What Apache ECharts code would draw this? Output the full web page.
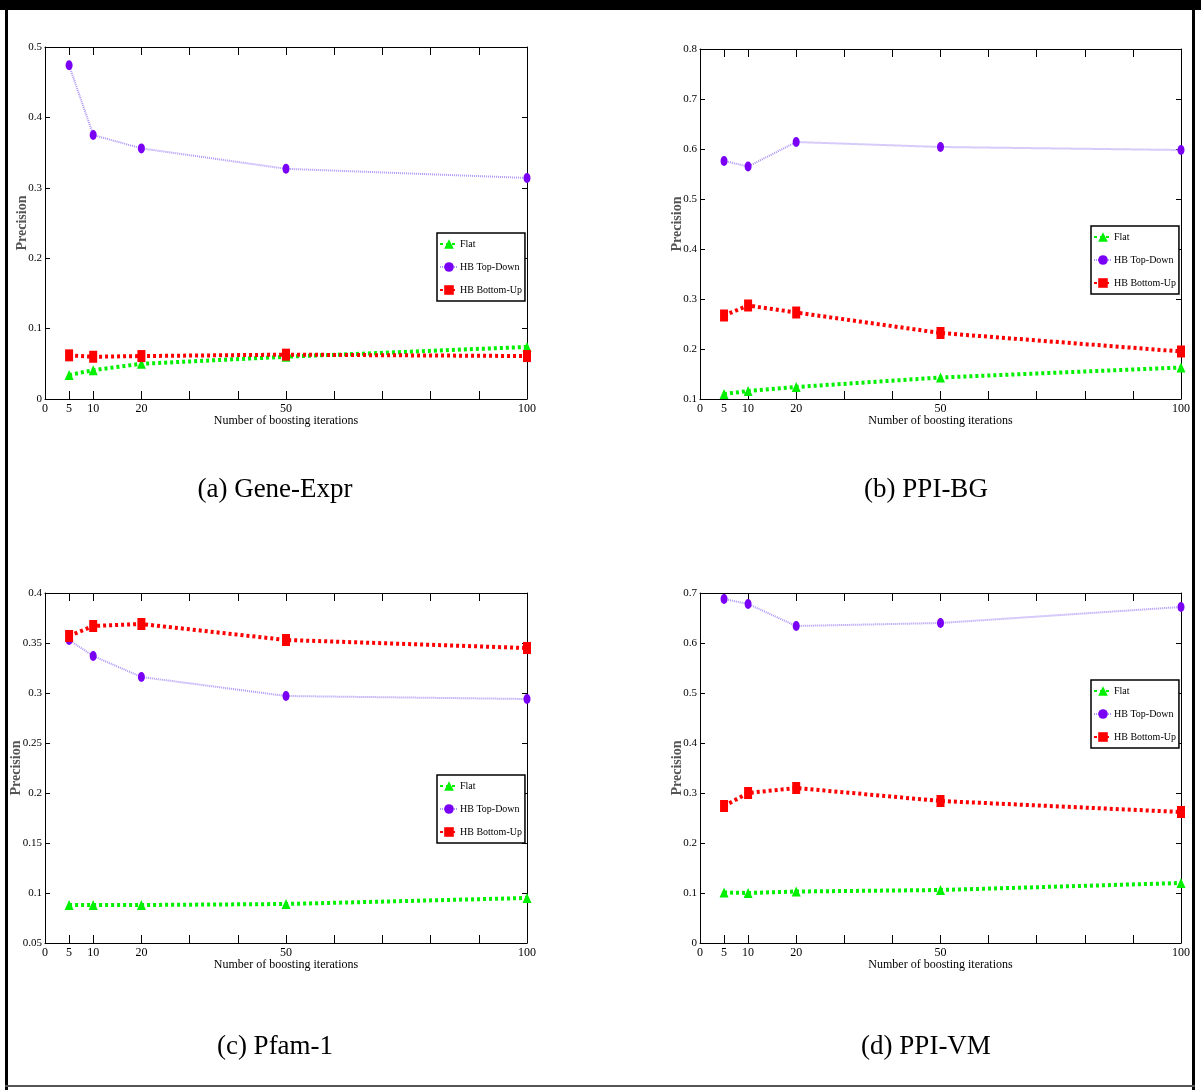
<!DOCTYPE html>
<html>
<head>
<meta charset="utf-8">
<script src="https://cdn.jsdelivr.net/npm/echarts@6/dist/echarts.min.js"></script>
<style>
  html, body { margin: 0; padding: 0; background: #fff; }
  #main { width: 1201px; height: 1090px; }
</style>
</head>
<body>
<div id="main"></div>
<script>
// boosting iterations on the x axis
var iterations = [5, 10, 20, 50, 100];
var xLabelValues = [0, 5, 10, 20, 50, 100];
var xTickValues = [5, 10, 20, 30, 40, 50, 60, 70, 80, 90];
var seriesNames = ['Flat', 'HB Top-Down', 'HB Bottom-Up'];

// (a) Gene-Expr
var geneFlat = [0.034, 0.041, 0.050, 0.060, 0.074];
var geneTopDown = [0.474, 0.375, 0.356, 0.327, 0.314];
var geneBottomUp = [0.062, 0.060, 0.061, 0.063, 0.061];
// (b) PPI-BG
var bgFlat = [0.110, 0.116, 0.124, 0.143, 0.163];
var bgTopDown = [0.576, 0.565, 0.614, 0.604, 0.598];
var bgBottomUp = [0.267, 0.287, 0.273, 0.232, 0.195];
// (c) Pfam-1
var pfamFlat = [0.088, 0.088, 0.088, 0.089, 0.095];
var pfamTopDown = [0.353, 0.337, 0.316, 0.297, 0.294];
var pfamBottomUp = [0.357, 0.367, 0.369, 0.353, 0.345];
// (d) PPI-VM
var vmFlat = [0.101, 0.100, 0.103, 0.106, 0.120];
var vmTopDown = [0.688, 0.678, 0.634, 0.640, 0.672];
var vmBottomUp = [0.274, 0.300, 0.310, 0.284, 0.262];

var captions = ['(a) Gene-Expr', '(b) PPI-BG', '(c) Pfam-1', '(d) PPI-VM'];
var panelData = [
  [geneFlat, geneTopDown, geneBottomUp],
  [bgFlat, bgTopDown, bgBottomUp],
  [pfamFlat, pfamTopDown, pfamBottomUp],
  [vmFlat, vmTopDown, vmBottomUp]
];
var yRanges = [
  { min: 0, max: 0.5, step: 0.1 },
  { min: 0.1, max: 0.8, step: 0.1 },
  { min: 0.05, max: 0.4, step: 0.05 },
  { min: 0, max: 0.7, step: 0.1 }
];

// layout (pixels)
var layouts = [
  { left: 45, top: 47, width: 482, height: 352, nameGap: 16, legend: [437, 233], cap: [275, 490] },
  { left: 700, top: 49, width: 481, height: 350, nameGap: 16, legend: [1091, 226], cap: [926, 490] },
  { left: 45, top: 593, width: 482, height: 350, nameGap: 22, legend: [437, 775], cap: [275, 1047] },
  { left: 700, top: 593, width: 481, height: 350, nameGap: 16, legend: [1091, 680], cap: [926, 1047] }
];

var FONT = '"Liberation Serif", "DejaVu Serif", serif';

var styles = [
  { color: '#00f000', symbol: 'triangle', size: [9, 10], line: { color: '#00f000', width: 4, type: [3, 3] } },
  { color: '#7a00f5', symbol: 'circle', size: [7, 10], line: { color: '#ad96f5', width: 2, type: [1, 1] } },
  { color: '#ff0000', symbol: 'rect', size: [8, 12], line: { color: '#ff0000', width: 4, type: [3, 3] } }
];

function pairs(values) {
  return iterations.map(function (x, i) { return [x, values[i]]; });
}

var grid = [], xAxis = [], yAxis = [], series = [], legend = [], graphic = [];

layouts.forEach(function (L, p) {
  grid.push({ left: L.left, top: L.top, width: L.width, height: L.height, containLabel: false });
  var xb = xAxis.length;
  xAxis.push({
    gridIndex: p, type: 'value', min: 0, max: 100, position: 'bottom',
    axisLine: { onZero: false, lineStyle: { color: '#000', width: 1 } },
    axisTick: { inside: true, length: 8, customValues: xTickValues, lineStyle: { color: '#000' } },
    axisLabel: { customValues: xLabelValues, margin: 4, fontFamily: FONT, fontSize: 12, color: '#000' },
    splitLine: { show: false },
    name: 'Number of boosting iterations', nameLocation: 'middle', nameGap: 16, nameMoveOverlap: false,
    nameTextStyle: { fontFamily: FONT, fontSize: 12, color: '#000' }
  });
  xAxis.push({
    gridIndex: p, type: 'value', min: 0, max: 100, position: 'top',
    axisLine: { onZero: false, lineStyle: { color: '#000', width: 1 } },
    axisTick: { inside: true, length: 8, customValues: xTickValues, lineStyle: { color: '#000' } },
    axisLabel: { show: false },
    splitLine: { show: false }
  });
  var yr = yRanges[p];
  var yl = yAxis.length;
  yAxis.push({
    gridIndex: p, type: 'value', min: yr.min, max: yr.max, interval: yr.step, position: 'left',
    axisLine: { onZero: false, lineStyle: { color: '#000', width: 1 } },
    axisTick: { inside: true, length: 5, lineStyle: { color: '#000' } },
    axisLabel: { margin: 3, fontFamily: FONT, fontSize: 11, color: '#000' },
    splitLine: { show: false },
    name: 'Precision', nameLocation: 'middle', nameGap: L.nameGap, nameMoveOverlap: false,
    nameTextStyle: { fontFamily: FONT, fontSize: 14, fontWeight: 'bold', color: '#555' }
  });
  yAxis.push({
    gridIndex: p, type: 'value', min: yr.min, max: yr.max, interval: yr.step, position: 'right',
    axisLine: { onZero: false, lineStyle: { color: '#000', width: 1 } },
    axisTick: { inside: true, length: 5, lineStyle: { color: '#000' } },
    axisLabel: { show: false },
    splitLine: { show: false }
  });

  panelData[p].forEach(function (vals, s) {
    var st = styles[s];
    series.push({
      name: seriesNames[s], type: 'line', xAxisIndex: xb, yAxisIndex: yl,
      data: pairs(vals), symbol: st.symbol, symbolSize: st.size, showAllSymbol: true,
      itemStyle: { color: st.color }, lineStyle: st.line, animation: false
    });
  });

  legend.push({
    data: seriesNames, orient: 'vertical', left: L.legend[0], top: L.legend[1],
    itemWidth: 18, itemHeight: 12, itemGap: 13,
    padding: [6, 3, 6, 2], borderColor: '#000', borderWidth: 1.5, backgroundColor: '#fff',
    textStyle: { fontFamily: FONT, fontSize: 10, color: '#000', padding: [0, 0, 0, -3] },
    selectedMode: false
  });

  graphic.push({
    type: 'text', style: {
      text: captions[p], x: L.cap[0], y: L.cap[1], textAlign: 'center', textVerticalAlign: 'middle',
      font: '27px ' + FONT, fill: '#000'
    }
  });
});

// outer frame
graphic.push({ type: 'rect', shape: { x: 0, y: 0, width: 1201, height: 10 }, style: { fill: '#000' } });
graphic.push({ type: 'rect', shape: { x: 5, y: 0, width: 3, height: 1090 }, style: { fill: '#000' } });
graphic.push({ type: 'rect', shape: { x: 1192, y: 0, width: 3, height: 1090 }, style: { fill: '#000' } });
graphic.push({ type: 'rect', shape: { x: 5, y: 1085, width: 1190, height: 2 }, style: { fill: '#555' } });

var chart = echarts.init(document.getElementById('main'), null, { renderer: 'canvas' });
chart.setOption({
  animation: false,
  backgroundColor: '#fff',
  grid: grid,
  xAxis: xAxis,
  yAxis: yAxis,
  legend: legend,
  series: series,
  graphic: graphic
});
</script>
</body>
</html>
